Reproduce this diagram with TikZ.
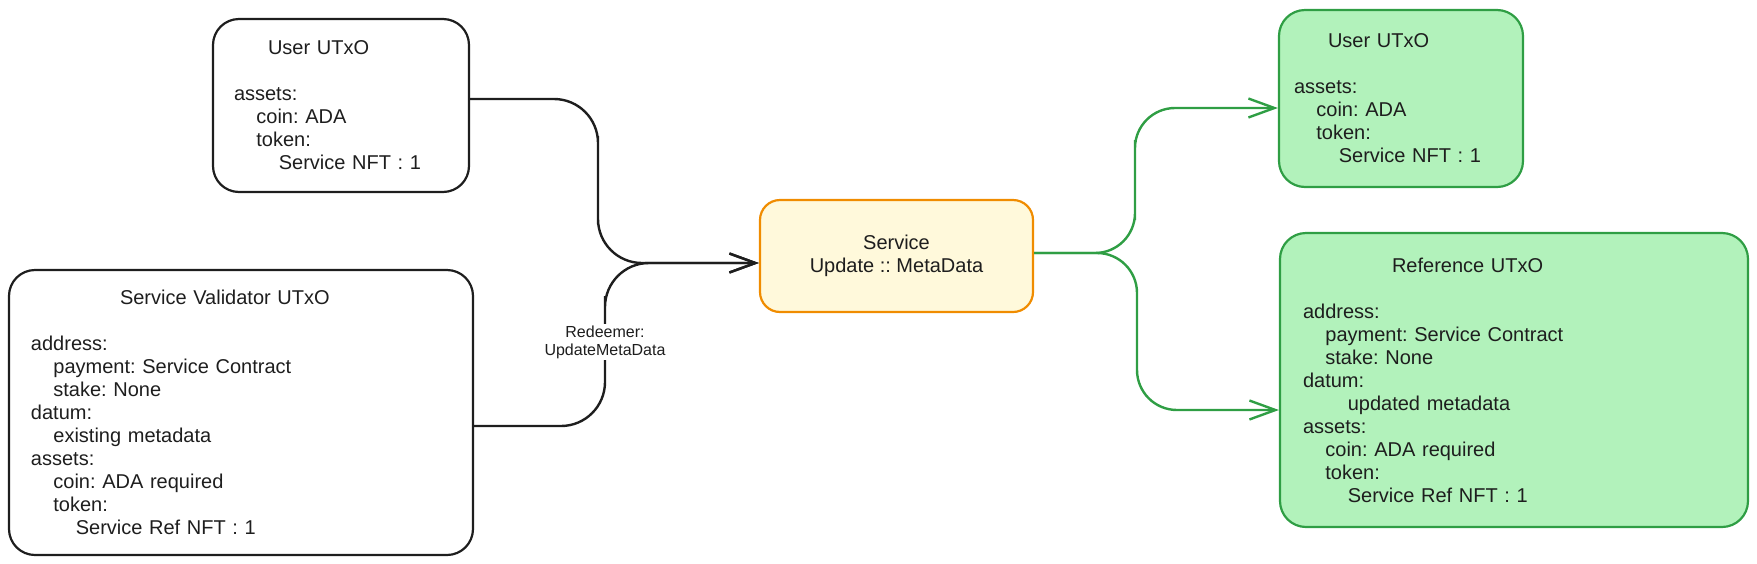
\documentclass[tikz,border=0pt]{standalone}
\usepackage{fontspec}
\setmainfont{Liberation Sans}
\usepackage{xcolor}
\usetikzlibrary{arrows.meta}
\frenchspacing
\definecolor{inkblack}{HTML}{1E1E1E}
\definecolor{okline}{HTML}{2F9E44}
\definecolor{okfill}{HTML}{B2F2BB}
\definecolor{txline}{HTML}{F08C00}
\definecolor{txfill}{HTML}{FFF9DB}
\newcommand{\indone}{\hspace*{11.2pt}}
\newcommand{\indtwo}{\hspace*{22.4pt}}
\tikzset{
  utxo/.style={draw=inkblack, line width=1.1pt, rounded corners=13pt, align=left,
    inner ysep=0pt, text=inkblack, font=\fontsize{10pt}{11.5pt}\selectfont},
  okutxo/.style={utxo, draw=okline, fill=okfill},
  txbox/.style={draw=txline, fill=txfill, line width=1.1pt, rounded corners=10pt, align=center,
    minimum width=136.5pt, minimum height=56pt, text=inkblack, font=\fontsize{10pt}{11.5pt}\selectfont},
  flow/.style={inkblack, line width=1.2pt, rounded corners=22pt, -{Straight Barb[length=13pt,width=9.5pt]}},
  okflow/.style={flow, okline, rounded corners=20pt},
  redeemer/.style={fill=white, inner sep=1pt, align=center, text=inkblack, font=\fontsize{8pt}{9pt}\selectfont}
}

\begin{document}
\begin{tikzpicture}[x=0.5pt,y=-0.5pt]
\useasboundingbox (0,0) rectangle (1757,563);
% inputs
\node[utxo, inner xsep=10.5pt, text width=107pt, minimum height=86.5pt] (userIn) at (341,105.5)
  {\hspace*{17pt}User UTxO\\[11.5pt]assets:\\\indone coin: ADA\\\indone token:\\\indtwo Service NFT : 1};
\node[utxo, inner xsep=11pt, text width=210pt, minimum height=142.5pt] (validator) at (241,412.5)
  {\hspace*{44.5pt}Service Validator UTxO\\[11.5pt]address:\\\indone payment: Service Contract\\\indone stake: None\\datum:\\\indone existing metadata\\assets:\\\indone coin: ADA required\\\indone token:\\\indtwo Service Ref NFT : 1};
% transaction
\node[txbox] (service) at (896.5,256) {Service\\Update :: MetaData};
% outputs
\node[okutxo, inner xsep=7.5pt, text width=107pt, minimum height=88.5pt] (userOut) at (1401,98.5)
  {\hspace*{17pt}User UTxO\\[11.5pt]assets:\\\indone coin: ADA\\\indone token:\\\indtwo Service NFT : 1};
\node[okutxo, inner xsep=11.5pt, text width=211pt, minimum height=147pt] (refOut) at (1514,380)
  {\hspace*{44.5pt}Reference UTxO\\[11.5pt]address:\\\indone payment: Service Contract\\\indone stake: None\\datum:\\\indtwo updated metadata\\assets:\\\indone coin: ADA required\\\indone token:\\\indtwo Service Ref NFT : 1};

\coordinate (jUser) at (598,180);
\coordinate (jVal) at (605,340);
\coordinate (jOut) at (1135,180);
\coordinate (jRef) at (1137,330);
\draw[flow] ([yshift=3.25pt]userIn.east) -| (jUser) |- ([yshift=-3.5pt]service.west);
\draw[flow] ([yshift=-6.75pt]validator.east) -| (jVal) |- ([yshift=-3.5pt]service.west);
\node[redeemer] (redeem) at (605,342) {Redeemer:\\UpdateMetaData};
\draw[okflow] ([yshift=1.5pt]service.east) -| (jOut) |- ([yshift=-4.75pt]userOut.west);
\draw[okflow] ([yshift=1.5pt]service.east) -| (jRef) |- ([yshift=-15pt]refOut.west);
\end{tikzpicture}
\end{document}
